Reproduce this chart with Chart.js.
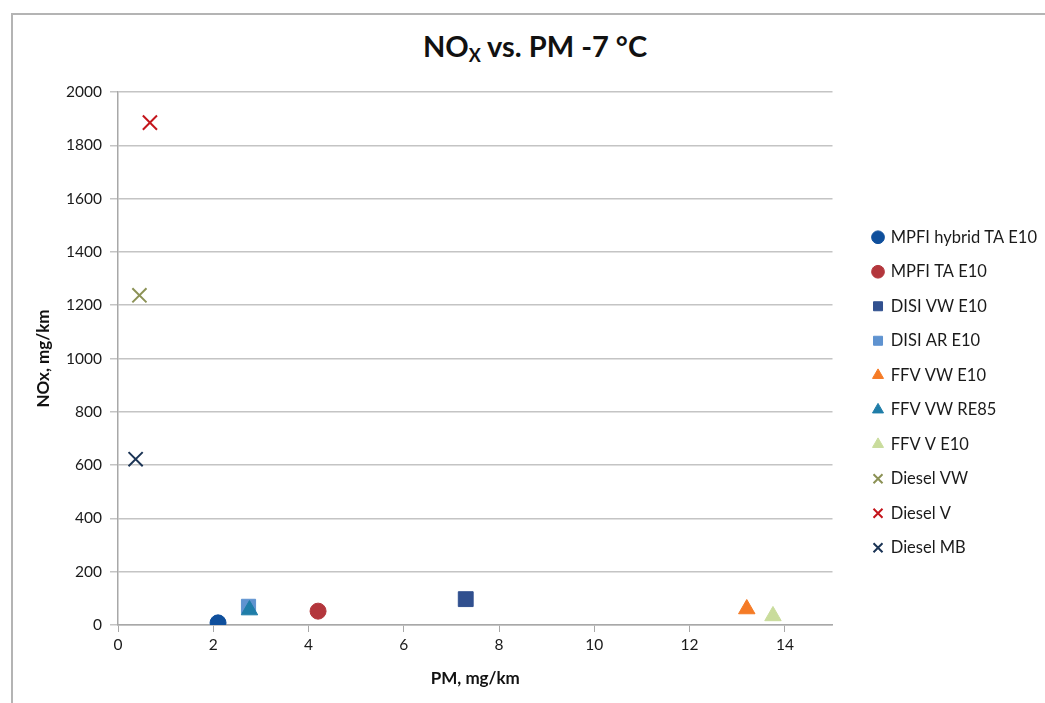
<!DOCTYPE html>
<html>
<head>
    <title>NOx vs. PM -7 °C</title>
    <script src="https://cdn.jsdelivr.net/npm/chart.js"></script>
</head>
<style>
    body {
        margin: 0;
        background: #ffffff;
        font-family: Lato, "Open Sans", sans-serif;
    }
    .frame {
        position: absolute;
        left: 11px;
        top: 13px;
        width: 1100px;
        height: 760px;
        border-left: 2px solid #b4b4b4;
        border-top: 2px solid #b4b4b4;
    }
    .chart-heading {
        position: absolute;
        left: 0;
        top: 28px;
        width: 1070px;
        text-align: center;
        font-size: 29px;
        line-height: 36px;
        font-weight: 700;
        color: #111;
        margin: 0;
    }
    .chart-heading sub {
        font-size: 18px;
        vertical-align: -5px;
        line-height: 0;
    }
    .chart-container {
        position: absolute;
        left: 0;
        top: 0;
        width: 1045px;
        height: 703px;
    }
</style>
<body>
    <div class="frame"></div>
    <h2 class="chart-heading">NO<sub>X</sub> vs. PM -7 °C</h2>
    <div class="chart-container">
        <canvas id="noxChart" width="1045" height="703"></canvas>
    </div>
<script>
    // series names
    var seriesNames = ['MPFI hybrid TA E10','MPFI TA E10','DISI VW E10','DISI AR E10','FFV VW E10','FFV VW RE85','FFV V E10','Diesel VW','Diesel V','Diesel MB'];
    // PM, mg/km
    var pmValues   = [2.1, 4.2, 7.3, 2.74, 13.2, 2.76, 13.75, 0.45, 0.67, 0.37];
    // NOx, mg/km
    var noxValues  = [8, 52, 97, 70, 60, 56, 34, 1237, 1885, 622];

    var colors = ['#0f4f9c','#b3363c','#31508f','#5f93d0','#f57b26','#1f7da8','#c9dc9c','#8c9256','#c4161c','#1c3556'];
    var styles = ['circle','circle','rect','rect','triangle','triangle','triangle','crossRot','crossRot','crossRot'];
    var sizes  = [8, 8, 10.5, 10, 9.5, 9.5, 9.5, 10, 10, 10];

    var datasets = seriesNames.map(function (name, i) {
        var isCross = styles[i] === 'crossRot';
        return {
            label: name,
            data: [{ x: pmValues[i], y: noxValues[i] }],
            order: name === 'DISI AR E10' ? 1 : 0, // keep it under the RE85 triangle
            pointStyle: styles[i],
            pointRadius: sizes[i],
            pointHoverRadius: sizes[i],
            backgroundColor: colors[i],
            borderColor: colors[i],
            borderWidth: isCross ? 2 : 1
        };
    });

    // widen the gap between plot area and legend (legend padding also sets row spacing)
    var legendGap = {
        id: 'legendGap',
        beforeLayout: function (chart) {
            var lg = chart.legend;
            if (lg && !lg._gapWrapped) {
                var fit = lg.fit.bind(lg);
                lg.fit = function () { fit(); this.width += 19; };
                lg._gapWrapped = true;
            }
        },
        afterLayout: function (chart) {
            if (chart.legend) chart.legend.left += 23;
        }
    };

    var ctx = document.getElementById('noxChart').getContext('2d');
    var noxChart = new Chart(ctx, {
        type: 'scatter',
        data: { datasets: datasets },
        plugins: [legendGap],
        options: {
            responsive: false,
            animation: false,
            layout: {
                padding: { left: 20, top: 92, right: 2, bottom: 10 }
            },
            plugins: {
                legend: {
                    position: 'right',
                    labels: {
                        usePointStyle: true,
                        boxWidth: 9,
                        boxHeight: 9,
                        padding: 18,
                        color: '#1a1a1a',
                        font: { family: 'Lato', size: 16.5 },
                        sort: function (a, b) { return a.datasetIndex - b.datasetIndex; }
                    }
                },
                tooltip: { enabled: false }
            },
            scales: {
                x: {
                    min: 0,
                    max: 15,
                    ticks: {
                        stepSize: 2,
                        color: '#1a1a1a',
                        padding: 4,
                        font: { family: 'Lato', size: 15.5 },
                        callback: function (v) { return String(v); }
                    },
                    afterBuildTicks: function (s) {
                        s.ticks = s.ticks.filter(function (t) { return t.value <= 14; });
                    },
                    afterFit: function (s) { s.height = 68; },
                    grid: {
                        drawOnChartArea: false,
                        color: '#a8a8a8',
                        tickLength: 7
                    },
                    border: { color: '#a8a8a8', width: 1.5 },
                    title: {
                        display: true,
                        text: 'PM, mg/km',
                        color: '#111',
                        padding: { top: 4 },
                        font: { family: 'Lato', size: 17, weight: 'bold' }
                    }
                },
                y: {
                    min: 0,
                    max: 2000,
                    ticks: {
                        stepSize: 200,
                        color: '#1a1a1a',
                        padding: 8,
                        font: { family: 'Lato', size: 15.5 },
                        callback: function (v) { return String(v); }
                    },
                    afterFit: function (s) { s.width = 98; },
                    grid: {
                        color: '#c4c4c4',
                        lineWidth: 1.5,
                        tickLength: 8
                    },
                    border: { color: '#a8a8a8', width: 1.5 },
                    title: {
                        display: true,
                        text: 'NOx, mg/km',
                        color: '#111',
                        padding: { top: 13 },
                        font: { family: 'Lato', size: 17, weight: 'bold' }
                    }
                }
            }
        }
    });
</script>
</body>
</html>
